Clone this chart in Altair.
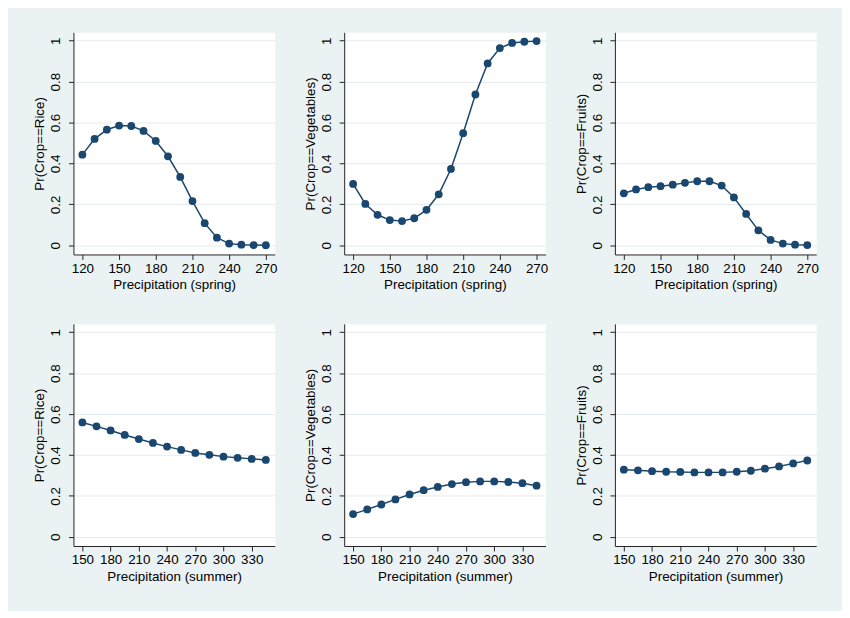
import altair as alt
import pandas as pd

# ---- data ----
spring_x = [120, 130, 140, 150, 160, 170, 180, 190, 200, 210, 220, 230, 240, 250, 260, 270]
rice_spring = [0.443, 0.520, 0.565, 0.585, 0.583, 0.559, 0.510, 0.435, 0.334, 0.216, 0.108, 0.037, 0.008, 0.003, 0.001, 0.000]
veg_spring = [0.300, 0.202, 0.149, 0.123, 0.118, 0.132, 0.173, 0.249, 0.373, 0.548, 0.737, 0.889, 0.964, 0.989, 0.995, 0.998]
fruit_spring = [0.254, 0.273, 0.284, 0.289, 0.296, 0.305, 0.313, 0.313, 0.292, 0.234, 0.153, 0.073, 0.026, 0.008, 0.003, 0.001]

summer_x = [150, 165, 180, 195, 210, 225, 240, 255, 270, 285, 300, 315, 330, 345]
rice_summer = [0.559, 0.540, 0.520, 0.498, 0.478, 0.459, 0.441, 0.425, 0.410, 0.401, 0.392, 0.386, 0.381, 0.376]
veg_summer = [0.111, 0.134, 0.158, 0.183, 0.207, 0.228, 0.244, 0.258, 0.267, 0.271, 0.271, 0.268, 0.262, 0.250]
fruit_summer = [0.328, 0.325, 0.321, 0.318, 0.317, 0.315, 0.315, 0.315, 0.318, 0.323, 0.333, 0.344, 0.359, 0.373]

spring_ticks = [120, 150, 180, 210, 240, 270]
summer_ticks = [150, 180, 210, 240, 270, 300, 330]
y_ticks = [0, 0.2, 0.4, 0.6, 0.8, 1]

spring_domain = [112.7, 277.3]
summer_domain = [140.5, 354.5]
y_domain = [-0.045, 1.041]

NAVY = "#1A476F"
FONT = "Liberation Sans"


def panel(xs, ys, xtitle, ytitle, xticks, xdomain):
    df = pd.DataFrame({"x": xs, "y": ys})
    base = alt.Chart(df).encode(
        x=alt.X(
            "x:Q",
            scale=alt.Scale(domain=xdomain, nice=False, zero=False),
            axis=alt.Axis(values=xticks, title=xtitle, grid=False, format="d",
                          labelPadding=2, titlePadding=3),
        ),
        y=alt.Y(
            "y:Q",
            scale=alt.Scale(domain=y_domain, nice=False, zero=False),
            axis=alt.Axis(values=y_ticks, title=ytitle, grid=True, format="~g",
                          labelAngle=270, labelPadding=6, titlePadding=2),
        ),
    )
    line = base.mark_line(color=NAVY, strokeWidth=1.5)
    pts = base.mark_circle(color=NAVY, size=62, opacity=1)
    return alt.layer(line, pts).properties(width=203, height=224)


panels = [
    panel(spring_x, rice_spring, "Precipitation (spring)", "Pr(Crop==Rice)", spring_ticks, spring_domain),
    panel(spring_x, veg_spring, "Precipitation (spring)", "Pr(Crop==Vegetables)", spring_ticks, spring_domain),
    panel(spring_x, fruit_spring, "Precipitation (spring)", "Pr(Crop==Fruits)", spring_ticks, spring_domain),
    panel(summer_x, rice_summer, "Precipitation (summer)", "Pr(Crop==Rice)", summer_ticks, summer_domain),
    panel(summer_x, veg_summer, "Precipitation (summer)", "Pr(Crop==Vegetables)", summer_ticks, summer_domain),
    panel(summer_x, fruit_summer, "Precipitation (summer)", "Pr(Crop==Fruits)", summer_ticks, summer_domain),
]

chart = alt.concat(*panels, columns=3, spacing=70, bounds="flush").properties(
    padding={"left": 24, "top": 21, "right": 23, "bottom": 25},
    background="#EAF2F3",
).configure_view(
    fill="white", stroke="transparent"
).configure_axis(
    labelFont=FONT, titleFont=FONT, labelFontSize=13.5, titleFontSize=13.5,
    labelColor="#000000", titleColor="#000000", titleFontWeight="normal",
    domainColor="#222222", tickColor="#222222", domainWidth=1, tickWidth=1, tickSize=5,
    gridColor="#E3EBEE", gridWidth=1, labelFlush=False, labelOverlap=False,
)

chart.save("out.html", embed_options={"renderer": "svg", "actions": False})
